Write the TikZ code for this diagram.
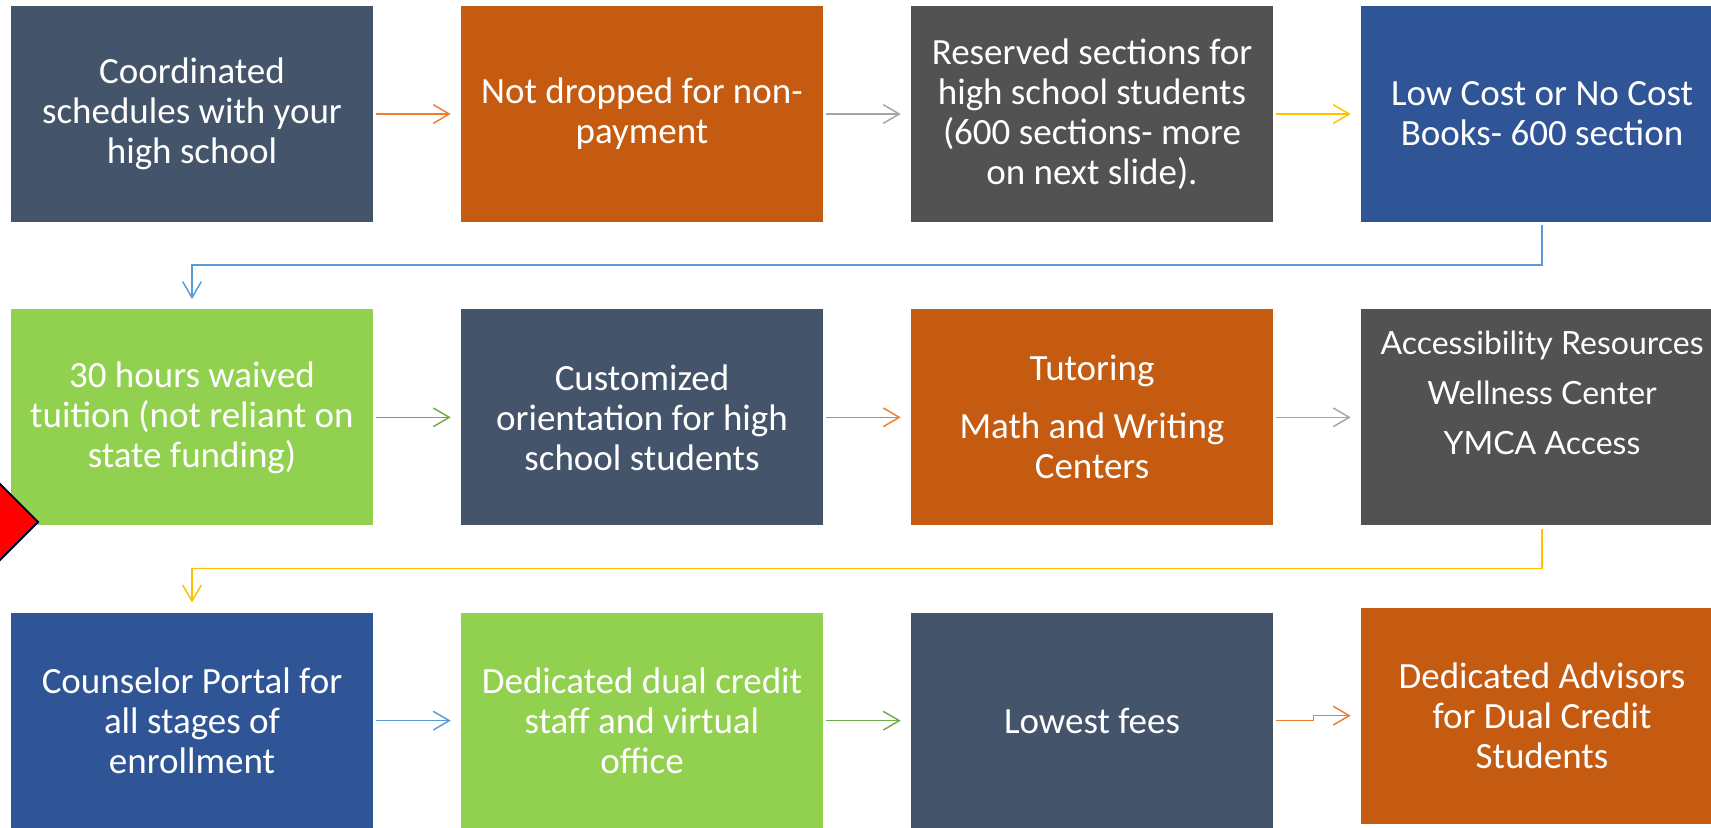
\documentclass[tikz,border=0pt]{standalone}
\usepackage{fontspec}
\setmainfont{Carlito}
\newfontfamily\gillfont{Lato}
\usetikzlibrary{arrows.meta}

\definecolor{slate}{HTML}{44546A}
\definecolor{rust}{HTML}{C55A11}
\definecolor{ash}{HTML}{525252}
\definecolor{navy}{HTML}{2F5597}
\definecolor{lime}{HTML}{92D050}
\definecolor{arrorange}{HTML}{ED7D31}
\definecolor{arrgray}{HTML}{A5A5A5}
\definecolor{arrgold}{HTML}{FFC000}
\definecolor{arrblue}{HTML}{5B9BD5}
\definecolor{arrgreen}{HTML}{70AD47}

\begin{document}
\begin{tikzpicture}[
  box/.style={minimum width=\bw,minimum height=\bh,inner sep=0pt,align=center,text=white,
    font=\fontsize{27.75pt}{30pt}\selectfont},
  link/.style={draw=#1,line width=1.1pt,-{Straight Barb[length=12pt,width=14pt]},
    shorten <=2.25pt,shorten >=7.5pt}]
\def\bw{271.5pt}
\def\bh{162pt}
\def\hs{337.5pt}
\def\vs{227.5pt}
\def\xa{144pt}
\def\ya{-85.5pt}

\useasboundingbox (0,0) rectangle (1283.25pt,-621pt);
\clip (0,0) rectangle (1283.25pt,-621pt);

% row 1
\node[box,fill=slate] (A1) at (\xa,\ya) {Coordinated\\schedules with your\\high school};
\node[box,fill=rust] (A2) at (\xa+\hs,\ya) {Not dropped for non-\\payment};
\node[box,fill=ash] (A3) at (\xa+2*\hs,\ya) {Reserved sections for\\high school students\\(600 sections- more\\on next slide).};
\node[box,fill=navy] (A4) at (\xa+3*\hs,\ya) {Low Cost or No Cost\\Books- 600 section};

% row 2
\node[box,fill=lime] (B1) at (\xa,\ya-\vs) {30 hours waived\\tuition (not reliant on\\state funding)};
\node[box,fill=slate] (B2) at (\xa+\hs,\ya-\vs) {Customized\\orientation for high\\school students};
\node[box,fill=rust] (B3) at (\xa+2*\hs,\ya-\vs) {Tutoring\\[13.5pt]Math and Writing\\Centers};
\node[box,fill=ash] (B4) at (\xa+3*\hs,\ya-\vs) {};
\node[align=center,text=white,font=\gillfont\fontsize{24pt}{37.5pt}\selectfont] (B4t) at ([yshift=18.5pt]B4.center) {Accessibility Resources\\Wellness Center\\YMCA Access};

% row 3
\node[box,fill=navy] (C1) at (\xa,\ya-2*\vs) {Counselor Portal for\\all stages of\\enrollment};
\node[box,fill=lime] (C2) at (\xa+\hs,\ya-2*\vs) {Dedicated dual credit\\staff and virtual\\office};
\node[box,fill=slate] (C3) at (\xa+2*\hs,\ya-2*\vs) {Lowest fees};
\node[box,fill=rust] (C4) at (\xa+3*\hs,\ya-2*\vs+3.75pt) {Dedicated Advisors\\for Dual Credit\\Students};

% red marker on the left
\draw[fill=red,draw=black!80!blue,line width=1.5pt] (28.5pt,-391.5pt) -- (-30pt,-333pt) -- (-88.5pt,-391.5pt) -- (-30pt,-450pt) -- cycle;

\draw[link=arrorange] (A1) -- (A2);
\draw[link=arrgray] (A2) -- (A3);
\draw[link=arrgold] (A3) -- (A4);
\draw[link=arrblue] (A4.south) -- ++(0,-32pt) -| (B1.north);
\draw[link=arrgreen] (B1) -- (B2);
\draw[link=arrorange] (B2) -- (B3);
\draw[link=arrgray] (B3) -- (B4);
\draw[link=arrgold] (B4.south) -- ++(0,-32pt) -| (C1.north);
\draw[link=arrblue] (C1) -- (C2);
\draw[link=arrgreen] (C2) -- (C3);
\draw[link=arrorange] (C3.east) -- ++(30pt,0) |- (C4.west);

\end{tikzpicture}
\end{document}
